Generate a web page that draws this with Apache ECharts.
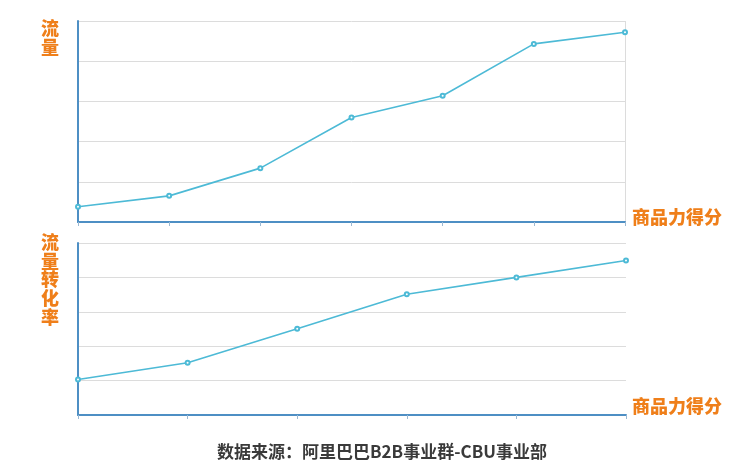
<!DOCTYPE html>
<html>
<head>
<meta charset="utf-8">
<script src="https://cdn.jsdelivr.net/npm/echarts@6/dist/echarts.min.js"></script>
<style>html,body{margin:0;padding:0;background:#fff;}#c{width:747px;height:474px;}</style>
</head>
<body>
<div id="c"></div>
<script>
var topCategories = ['1', '2', '3', '4', '5', '6', '7'];
var topValues = [0.38, 0.65, 1.34, 2.6, 3.14, 4.43, 4.72];
var bottomCategories = ['1', '2', '3', '4', '5', '6'];
var bottomValues = [1.03, 1.52, 2.51, 3.51, 4.0, 4.49];
var topYLabel = '流量';
var bottomYLabel = '流量转化率';
var xLabel = '商品力得分';
var sourceText = '数据来源：阿里巴巴B2B事业群-CBU事业部';

var axisBlue = '#4e8fc4';
var lineCyan = '#4dbad6';
var orange = '#ef7f1a';
var FONT = '"Noto Sans CJK SC", "Noto Sans", sans-serif';

function vert(s) { return s.split('').join('\n'); }

var chart = echarts.init(document.getElementById('c'));
chart.setOption({
  backgroundColor: '#fff',
  animation: false,
  grid: [
    { left: 78, top: 21, width: 547, height: 201 },
    { left: 78, top: 243, width: 548, height: 172 }
  ],
  xAxis: [
    {
      gridIndex: 0, type: 'category', data: topCategories, boundaryGap: false,
      axisLine: { lineStyle: { color: axisBlue, width: 2 } },
      axisTick: { show: true, length: 4, lineStyle: { color: '#9bb9d3', width: 1 } },
      axisLabel: { show: false },
      splitLine: { show: true, interval: function (i) { return i === topCategories.length - 1; }, lineStyle: { color: '#dcdcdc', width: 1 } }
    },
    {
      gridIndex: 1, type: 'category', data: bottomCategories, boundaryGap: false,
      axisLine: { lineStyle: { color: axisBlue, width: 2 } },
      axisTick: { show: true, length: 4, lineStyle: { color: '#9bb9d3', width: 1 } },
      axisLabel: { show: false },
      splitLine: { show: false }
    }
  ],
  yAxis: [
    {
      gridIndex: 0, type: 'value', min: 0, max: 5, interval: 1,
      axisLine: { show: true, lineStyle: { color: axisBlue, width: 2 } },
      axisTick: { show: false }, axisLabel: { show: false },
      splitLine: { lineStyle: { color: '#dcdcdc', width: 1 } }
    },
    {
      gridIndex: 1, type: 'value', min: 0, max: 5, interval: 1,
      axisLine: { show: true, lineStyle: { color: axisBlue, width: 2 } },
      axisTick: { show: false }, axisLabel: { show: false },
      splitLine: { lineStyle: { color: '#dcdcdc', width: 1 } }
    }
  ],
  series: [
    {
      type: 'line', xAxisIndex: 0, yAxisIndex: 0, data: topValues,
      symbol: 'emptyCircle', symbolSize: 4,
      lineStyle: { color: lineCyan, width: 1.6 },
      itemStyle: { color: lineCyan, borderWidth: 1 }
    },
    {
      type: 'line', xAxisIndex: 1, yAxisIndex: 1, data: bottomValues,
      symbol: 'emptyCircle', symbolSize: 4,
      lineStyle: { color: lineCyan, width: 1.6 },
      itemStyle: { color: lineCyan, borderWidth: 1 }
    }
  ],
  graphic: [
    { type: 'text', left: 41, top: 19, style: { text: vert(topYLabel), fill: orange, font: '900 18px ' + FONT, lineHeight: 19 } },
    { type: 'text', left: 41, top: 233, style: { text: vert(bottomYLabel), fill: orange, font: '900 18px ' + FONT, lineHeight: 18.6 } },
    { type: 'text', left: 632, top: 208, style: { text: xLabel, fill: orange, font: '900 18px ' + FONT } },
    { type: 'text', left: 632, top: 397, style: { text: xLabel, fill: orange, font: '900 18px ' + FONT } },
    { type: 'text', left: 217, top: 443, style: { text: sourceText, fill: '#3a3a3a', font: 'bold 17px ' + FONT } }
  ]
});
</script>
</body>
</html>
